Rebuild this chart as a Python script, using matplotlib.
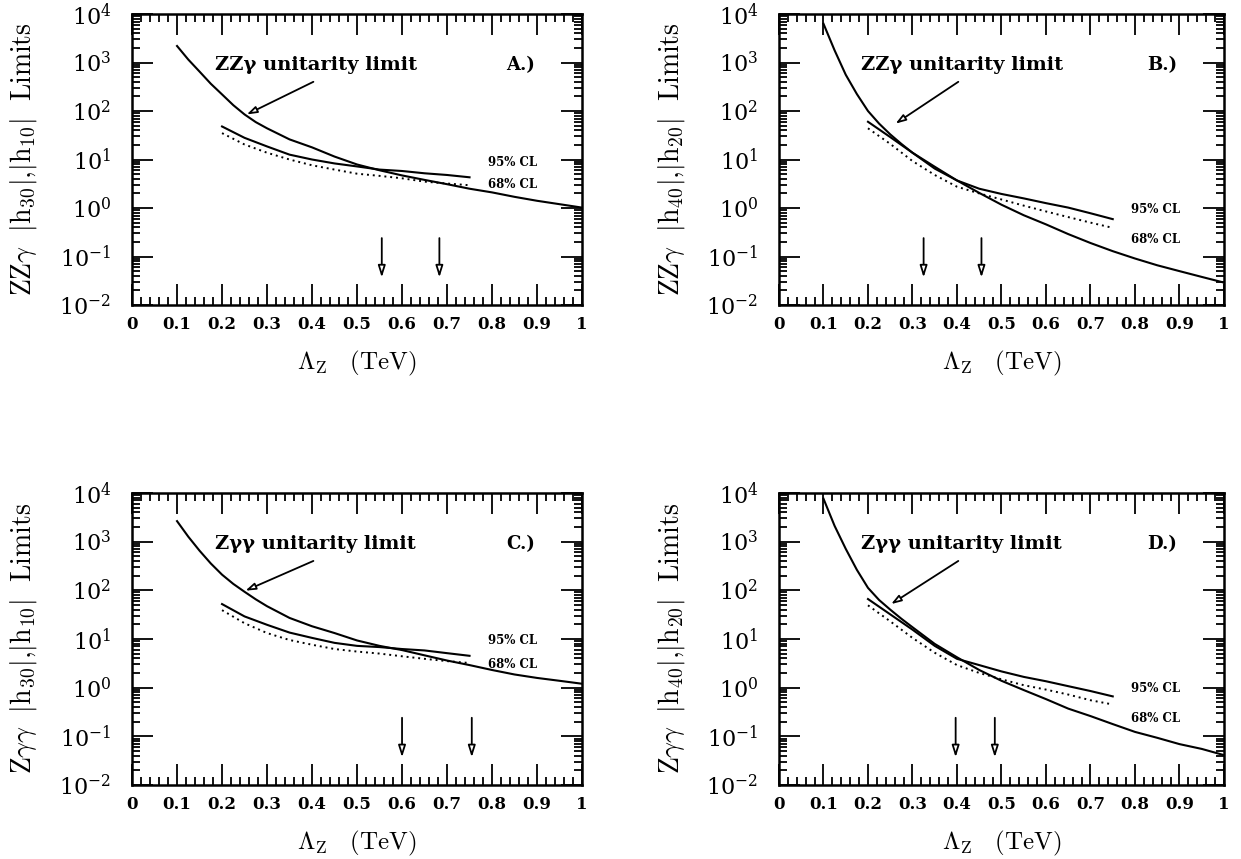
import matplotlib
matplotlib.use('Agg')
from matplotlib import pyplot as plt
from matplotlib.ticker import FixedLocator, LogLocator, NullFormatter

plt.rcParams['mathtext.fontset'] = 'cm'
plt.rcParams['font.family'] = 'DejaVu Serif'

# Lambda_Z grids (TeV)
UNIT_X = [0.1, 0.125, 0.15, 0.175, 0.2, 0.225, 0.25, 0.275, 0.3, 0.35, 0.4,
          0.45, 0.5, 0.55, 0.6, 0.65, 0.7, 0.75, 0.8, 0.85, 0.9, 0.95, 1.0]
CL_X = [0.2, 0.25, 0.3, 0.35, 0.4, 0.45, 0.5, 0.55, 0.6, 0.65, 0.7, 0.75]

# A.) ZZgamma h30, h10
A_UNIT = [2190, 1150, 650, 365, 220, 132, 85, 59, 44, 26, 17.8, 11.5, 7.9,
          6.0, 4.7, 3.8, 3.1, 2.5, 2.1, 1.7, 1.41, 1.2, 1.02]
A_CL95 = [48, 28, 18.6, 12.6, 10, 8.3, 7.2, 6.2, 5.8, 5.2, 4.8, 4.3]
A_CL68 = [35, 20.4, 13.8, 10, 7.6, 6.2, 5.1, 4.6, 4.1, 3.5, 3.2, 2.95]
A_ARROWS = [0.555, 0.683]

# B.) ZZgamma h40, h20
B_UNIT = [6300, 1780, 560, 224, 100, 55, 33, 21, 13.8, 7.1, 3.7, 2.05, 1.17,
          0.71, 0.46, 0.29, 0.19, 0.129, 0.091, 0.066, 0.050, 0.038, 0.029]
B_CL95 = [60, 29, 13.8, 6.5, 3.7, 2.5, 1.95, 1.58, 1.26, 1.02, 0.78, 0.59]
B_CL68 = [44, 21, 9.3, 4.8, 2.75, 2.0, 1.5, 1.12, 0.85, 0.65, 0.50, 0.39]
B_ARROWS = [0.325, 0.455]

# C.) Zgammagamma h30, h10
C_UNIT = [2630, 1260, 650, 355, 209, 135, 93, 65, 47, 27, 18.2, 13.2, 9.3,
          7.2, 5.9, 4.6, 3.6, 2.9, 2.3, 1.86, 1.58, 1.38, 1.2]
C_CL95 = [52, 29, 19.5, 13.5, 10.5, 8.3, 7.2, 6.8, 6.2, 5.8, 5.1, 4.5]
C_CL68 = [39, 21, 13.2, 9.5, 7.6, 6.2, 5.5, 5.0, 4.4, 3.9, 3.5, 3.2]
C_ARROWS = [0.60, 0.755]

# D.) Zgammagamma h40, h20
D_UNIT = [7600, 2100, 710, 263, 112, 63, 40, 26, 17.4, 7.9, 4.2, 2.3, 1.38,
          0.89, 0.58, 0.37, 0.26, 0.178, 0.123, 0.093, 0.069, 0.055, 0.041]
D_CL95 = [66, 32, 15.5, 7.2, 3.9, 2.9, 2.15, 1.66, 1.35, 1.07, 0.85, 0.66]
D_CL68 = [49, 23, 10.5, 5.2, 2.9, 2.0, 1.48, 1.12, 0.91, 0.72, 0.55, 0.45]
D_ARROWS = [0.397, 0.485]

X_TICKS = [0, 0.1, 0.2, 0.3, 0.4, 0.5, 0.6, 0.7, 0.8, 0.9, 1]
X_TICK_LABELS = ['0', '0.1', '0.2', '0.3', '0.4', '0.5', '0.6', '0.7', '0.8',
                 '0.9', '1']


def draw_panel(ax, unit, cl95, cl68, arrows, vertex, couplings, tag,
               unit_tip, cl_y):
  ax.set_yscale('log')
  ax.set_xlim(0, 1)
  ax.set_ylim(1e-2, 1e4)

  ax.plot(UNIT_X, unit, color='black', lw=1.5)
  ax.plot(CL_X, cl95, color='black', lw=1.5)
  ax.plot(CL_X, cl68, color='black', lw=1.4, ls=(0, (1, 2)))

  for x in arrows:
    ax.annotate('', xy=(x, 0.037), xytext=(x, 0.24),
                arrowprops=dict(arrowstyle='-|>,head_width=0.22,head_length=0.7',
                                fc='white', ec='black', lw=1.3,
                                shrinkA=0, shrinkB=0))

  ax.text(0.185, 900, vertex + ' unitarity limit', fontsize=14,
          fontweight='bold', va='center', ha='left')
  ax.annotate('', xy=unit_tip, xytext=(0.403, 400),
              arrowprops=dict(arrowstyle='-|>,head_width=0.2,head_length=0.6',
                              fc='white', ec='black', lw=1.3,
                              shrinkA=0, shrinkB=0))
  ax.text(0.895, 900, tag, fontsize=13, fontweight='bold', va='center',
          ha='right')
  ax.text(0.79, cl_y[0], '95% CL', fontsize=8.5, fontweight='bold',
          va='center', ha='left')
  ax.text(0.79, cl_y[1], '68% CL', fontsize=8.5, fontweight='bold',
          va='center', ha='left')

  ax.xaxis.set_major_locator(FixedLocator(X_TICKS))
  ax.set_xticklabels(X_TICK_LABELS, fontsize=12, fontweight='bold')
  ax.xaxis.set_minor_locator(FixedLocator([i * 0.02 for i in range(51)]))
  ax.yaxis.set_major_locator(LogLocator(base=10, numticks=10))
  ax.yaxis.set_minor_locator(LogLocator(base=10, subs=range(2, 10),
                                        numticks=20))
  ax.yaxis.set_minor_formatter(NullFormatter())
  ax.tick_params(which='both', direction='in', top=True, right=True,
                 width=1.3, color='black')
  ax.tick_params(which='major', length=15)
  ax.tick_params(which='minor', length=5.5)
  ax.tick_params(axis='x', pad=8)
  ax.tick_params(axis='y', labelsize=16, pad=15)
  for spine in ax.spines.values():
    spine.set_linewidth(1.8)

  ax.set_ylabel(couplings, fontsize=20)
  ax.yaxis.set_label_coords(-0.207, 0.5)
  ax.set_xlabel(r'$\Lambda_{\rm Z}\quad \mathrm{(TeV)}$', fontsize=18)
  ax.xaxis.set_label_coords(0.5, -0.15)


def main():
  fig = plt.figure(figsize=(12.41, 8.59), dpi=100)
  ax_a = fig.add_axes([0.1064, 0.6449, 0.3626, 0.3388])
  ax_b = fig.add_axes([0.6277, 0.6449, 0.3586, 0.3388])
  ax_c = fig.add_axes([0.1064, 0.0862, 0.3626, 0.3400])
  ax_d = fig.add_axes([0.6277, 0.0862, 0.3586, 0.3400])

  lab_a = r'$\mathrm{ZZ}\gamma\ \ |\mathrm{h}_{30}|{,}|\mathrm{h}_{10}|\ \ \mathrm{Limits}$'
  lab_b = r'$\mathrm{ZZ}\gamma\ \ |\mathrm{h}_{40}|{,}|\mathrm{h}_{20}|\ \ \mathrm{Limits}$'
  lab_c = r'$\mathrm{Z}\gamma\gamma\ \ |\mathrm{h}_{30}|{,}|\mathrm{h}_{10}|\ \ \mathrm{Limits}$'
  lab_d = r'$\mathrm{Z}\gamma\gamma\ \ |\mathrm{h}_{40}|{,}|\mathrm{h}_{20}|\ \ \mathrm{Limits}$'

  draw_panel(ax_a, A_UNIT, A_CL95, A_CL68, A_ARROWS, 'ZZγ', lab_a, 'A.)',
             (0.255, 85), (8.7, 3.1))
  draw_panel(ax_b, B_UNIT, B_CL95, B_CL68, B_ARROWS, 'ZZγ', lab_b, 'B.)',
             (0.262, 55), (0.93, 0.22))
  draw_panel(ax_c, C_UNIT, C_CL95, C_CL68, C_ARROWS, 'Zγγ', lab_c, 'C.)',
             (0.252, 98), (9.3, 3.0))
  draw_panel(ax_d, D_UNIT, D_CL95, D_CL68, D_ARROWS, 'Zγγ', lab_d, 'D.)',
             (0.252, 52), (0.98, 0.23))

  fig.savefig('out.png', dpi=100)


if __name__ == '__main__':
  main()
